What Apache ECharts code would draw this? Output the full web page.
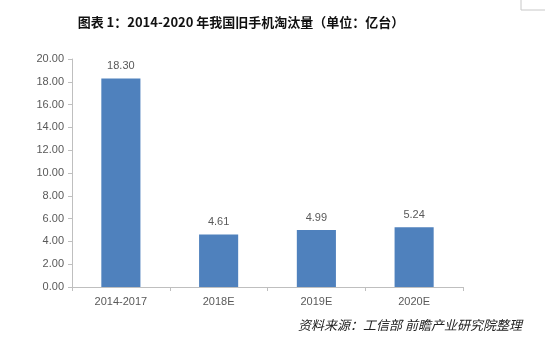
<!DOCTYPE html>
<html><head><meta charset="utf-8">
<script src="https://cdn.jsdelivr.net/npm/echarts@6/dist/echarts.min.js"></script>
<style>html,body{margin:0;padding:0;background:#fff}#c{width:550px;height:340px}</style>
</head><body><div id="c"></div>
<script>
const categories = ['2014-2017', '2018E', '2019E', '2020E'];
const values = [18.30, 4.61, 4.99, 5.24];
const yTicks = { min: 0, max: 20, interval: 2 };
const titleText = '图表 1：2014-2020 年我国旧手机淘汰量（单位：亿台）';
const sourceText = '资料来源：工信部 前瞻产业研究院整理';

const chart = echarts.init(document.getElementById('c'), null, { renderer: 'canvas' });
chart.setOption({
  animation: false,
  backgroundColor: '#fff',
  title: {
    text: titleText, left: 236, top: 11, textAlign: 'center',
    textStyle: { fontFamily: 'Noto Sans CJK SC', fontWeight: 'bold', fontSize: 13, color: '#111' }
  },
  graphic: [
    { type: 'text', right: 28, top: 319,
      style: { text: sourceText, font: 'italic 13px "Noto Sans CJK SC"', fill: '#222' } },
    { type: 'polyline', shape: { points: [[521, 0], [521, 10], [545, 10]] },
      style: { stroke: '#c8c8c8', lineWidth: 1, fill: null } }
  ],
  grid: { left: 72, right: 87, top: 59, bottom: 53 },
  xAxis: {
    type: 'category', data: categories,
    axisLine: { lineStyle: { color: '#BFBFBF' } },
    axisTick: { show: true, alignWithLabel: false, length: 4, lineStyle: { color: '#BFBFBF' } },
    axisLabel: { color: '#595959', fontSize: 11, fontFamily: 'Liberation Sans', margin: 9 }
  },
  yAxis: {
    type: 'value', min: yTicks.min, max: yTicks.max, interval: yTicks.interval,
    axisLine: { show: true, lineStyle: { color: '#BFBFBF' } },
    axisTick: { show: true, length: 4, lineStyle: { color: '#BFBFBF' } },
    splitLine: { show: false },
    axisLabel: { color: '#595959', fontSize: 11, fontFamily: 'Liberation Sans', margin: 8,
      formatter: v => v.toFixed(2) }
  },
  series: [{
    type: 'bar', data: values, barWidth: '40%',
    itemStyle: { color: '#4F81BD' },
    label: { show: true, position: 'top', distance: 7, color: '#595959', fontSize: 11,
      fontFamily: 'Liberation Sans', formatter: p => p.value.toFixed(2) }
  }]
});
</script></body></html>
